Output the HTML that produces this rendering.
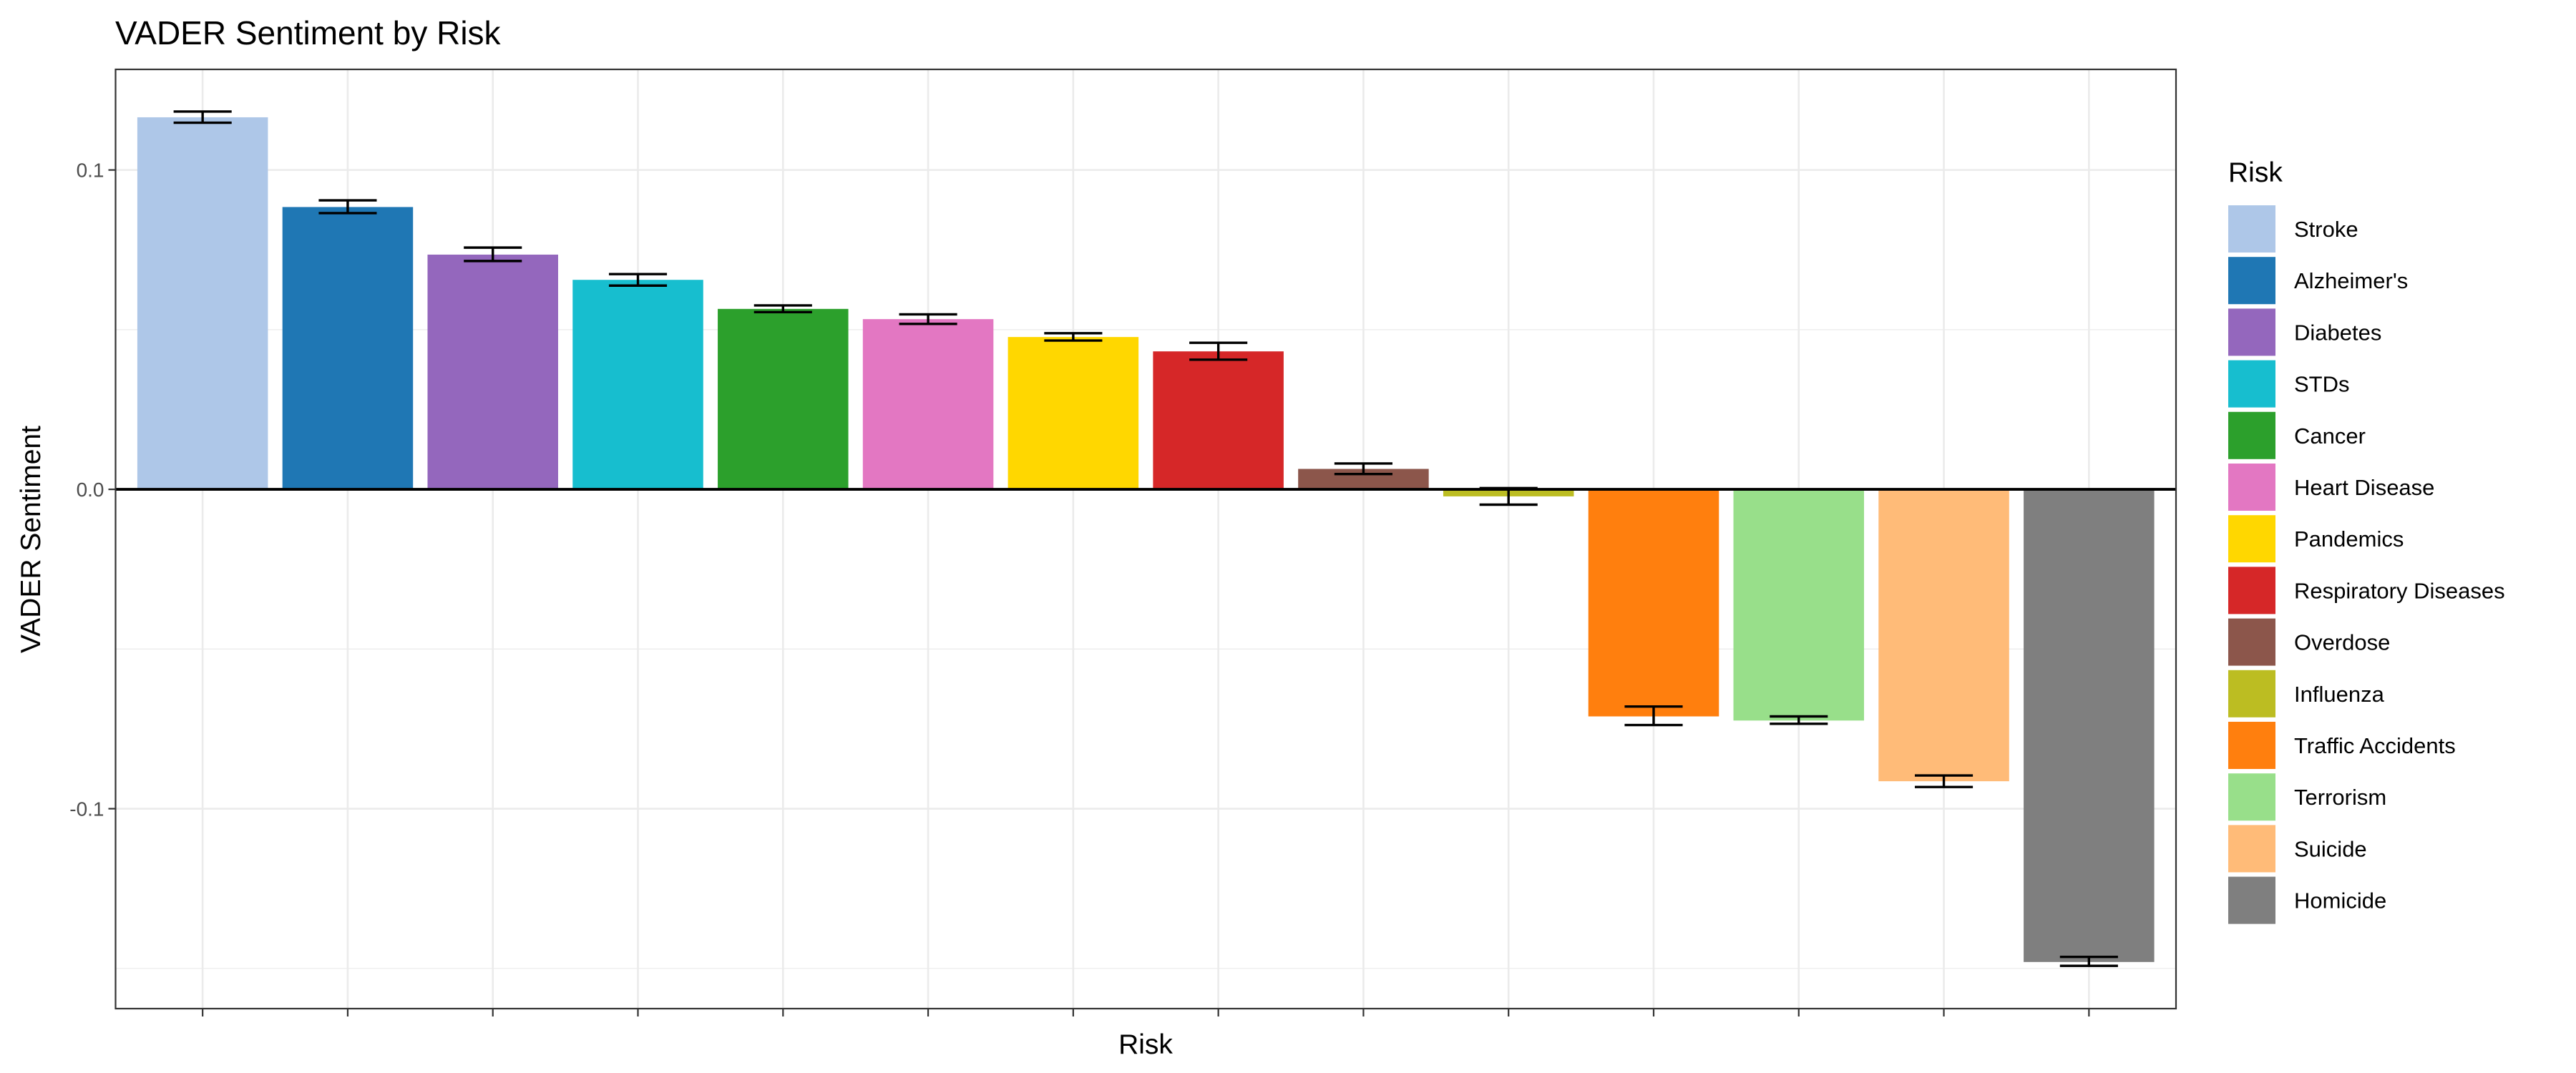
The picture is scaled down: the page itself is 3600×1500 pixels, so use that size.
<!DOCTYPE html>
<html><head><meta charset="utf-8"><style>
html,body{margin:0;padding:0;background:#fff}
svg{display:block}
text{font-family:"Liberation Sans",sans-serif}
</style></head><body>
<svg id="chart" width="3600" height="1500" viewBox="0 0 3600 1500" xmlns="http://www.w3.org/2000/svg">
<text x="161" y="62" font-size="46" fill="#000">VADER Sentiment by Risk</text>
<g id="grid"></g>
<g id="bars"></g>
<g id="errs"></g>
<g id="axes"></g>
<text x="0" y="0" font-size="39" fill="#000" text-anchor="middle" transform="translate(56,754) rotate(-90)">VADER Sentiment</text>
<text x="1601" y="1473" font-size="39" fill="#000" text-anchor="middle">Risk</text>
<g id="legend">
<text x="3114" y="254" font-size="39" fill="#000">Risk</text>
</g>
</svg>
<script>
const categories = ["Stroke","Alzheimer's","Diabetes","STDs","Cancer","Heart Disease","Pandemics","Respiratory Diseases","Overdose","Influenza","Traffic Accidents","Terrorism","Suicide","Homicide"];
const values = [0.1165,0.0884,0.0735,0.0656,0.0565,0.0533,0.0477,0.0432,0.0064,-0.0022,-0.0711,-0.0724,-0.0914,-0.1480];
const errUpper = [0.1183,0.0905,0.0757,0.0674,0.0576,0.0548,0.0489,0.0459,0.0081,0.0004,-0.0680,-0.0711,-0.0896,-0.1464];
const errLower = [0.1148,0.0865,0.0715,0.0638,0.0555,0.0518,0.0466,0.0406,0.0048,-0.0048,-0.0738,-0.0734,-0.0932,-0.1492];
const colors = ["#aec7e8","#1f77b4","#9467bd","#17becf","#2ca02c","#e377c2","#ffd700","#d62728","#8c564b","#bcbd22","#ff7f0e","#98df8a","#ffbb78","#7f7f7f"];
const majorTicks = [0.1,0.0,-0.1];
const tickLabels = ["0.1","0.0","-0.1"];
const minorTicks = [0.05,-0.05,-0.15];

const NS="http://www.w3.org/2000/svg";
const L=161.5,R=3041,T=97,B=1410;
const yMax=0.1315,yMin=-0.1626;
const y=v=>T+(yMax-v)/(yMax-yMin)*(B-T);
const step=(R-L)/(categories.length-1+1.2);
const x=i=>L+step*(i+0.6);
function mk(tag,attrs,parent){const e=document.createElementNS(NS,tag);for(const k in attrs)e.setAttribute(k,attrs[k]);parent.appendChild(e);return e;}
const grid=document.getElementById('grid'),bars=document.getElementById('bars'),errs=document.getElementById('errs'),axes=document.getElementById('axes'),legend=document.getElementById('legend');

minorTicks.forEach(v=>{const e=mk('line',{x1:L,x2:R,y1:y(v),y2:y(v),stroke:'#ebebeb','stroke-width':1.3},grid);

});
majorTicks.forEach(v=>{const e=mk('line',{x1:L,x2:R,y1:y(v),y2:y(v),stroke:'#ebebeb','stroke-width':2.6},grid);

});
categories.forEach((c,i)=>{const e=mk('line',{x1:x(i),x2:x(i),y1:T,y2:B,stroke:'#ebebeb','stroke-width':2.6},grid);

});

const bw=step*0.9, ew=step*0.4;
categories.forEach((c,i)=>{
  const v=values[i];const y0=y(0),yv=y(v);
  const r=mk('rect',{x:x(i)-bw/2,y:Math.min(y0,yv),width:bw,height:Math.abs(yv-y0),fill:colors[i]},bars);
  
  
  const g=mk('g',{stroke:'#000','stroke-width':3.4},errs);
  
  
  mk('line',{x1:x(i),x2:x(i),y1:y(errUpper[i]),y2:y(errLower[i])},g);
  mk('line',{x1:x(i)-ew/2,x2:x(i)+ew/2,y1:y(errUpper[i]),y2:y(errUpper[i])},g);
  mk('line',{x1:x(i)-ew/2,x2:x(i)+ew/2,y1:y(errLower[i]),y2:y(errLower[i])},g);
});
const zl=mk('line',{x1:L,x2:R,y1:y(0),y2:y(0),stroke:'#000','stroke-width':3.8},axes);


const fr=mk('rect',{x:L,y:T,width:R-L,height:B-T,fill:'none',stroke:'#333','stroke-width':2.2},axes);


majorTicks.forEach((v,i)=>{
  const t=mk('line',{x1:L-10,x2:L,y1:y(v),y2:y(v),stroke:'#333','stroke-width':2.2},axes);
  
  
  const tx=mk('text',{x:L-16,y:y(v)+10,'font-size':28,fill:'#4d4d4d','text-anchor':'end'},axes);
  tx.textContent=tickLabels[i];
  
  
});
categories.forEach((c,i)=>{const t=mk('line',{x1:x(i),x2:x(i),y1:B,y2:B+11,stroke:'#333','stroke-width':2.2},axes);

});

categories.forEach((c,i)=>{
  const ky=287+i*72.2;
  const k=mk('rect',{x:3114,y:ky,width:66,height:66,fill:colors[i]},legend);
  
  
  const t=mk('text',{x:3206,y:ky+44,'font-size':31,fill:'#000'},legend);
  t.textContent=c;
  
  
});
</script>
</body></html>
